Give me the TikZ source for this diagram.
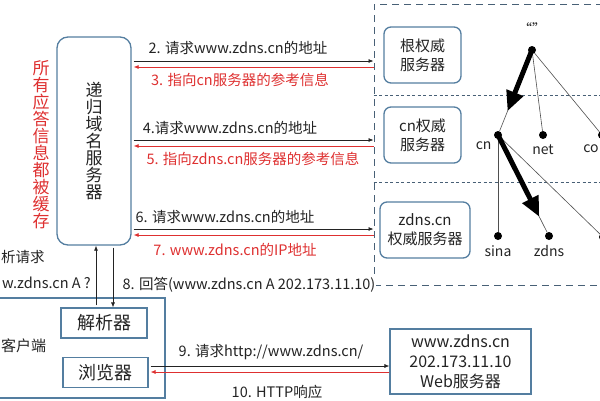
\documentclass[tikz,border=0pt]{standalone}
\usepackage{fontspec}
\setmainfont{Noto Sans CJK SC}
\usetikzlibrary{arrows.meta, calc, positioning}
\definecolor{boxblue}{RGB}{84,126,160}
\definecolor{zonegray}{RGB}{72,96,118}
\definecolor{msgred}{RGB}{222,48,48}
\definecolor{ink}{RGB}{35,35,35}

\tikzset{
  srvbox/.style={draw=boxblue, line width=1.3pt, rounded corners=7pt, align=center, text=ink,
    font=\fontsize{15}{19}\selectfont, minimum width=77pt, minimum height=56pt},
  hostbox/.style={draw=boxblue, line width=1.1pt, align=center, text=ink},
  zonebox/.style={draw=zonegray, line width=1pt, dash pattern=on 7pt off 5pt},
  tierline/.style={draw=zonegray, line width=0.8pt, dash pattern=on 3pt off 2.5pt},
  msg/.style={text=ink, font=\fontsize{14.5}{17}\selectfont, inner sep=1pt},
  note/.style={msg, text=msgred},
  ask/.style={draw=ink, line width=0.7pt, shorten <=2pt, -{Latex[length=5pt,width=4pt]}},
  reply/.style={draw=msgred, line width=0.7pt, shorten >=2pt, -{Latex[length=5pt,width=4pt]}},
  treedot/.style={circle, fill=black, inner sep=0pt, minimum size=8pt},
  branch/.style={draw=ink!80, line width=0.6pt},
  hop/.style={line width=5pt, -{Triangle[length=20pt,width=17pt]}},
  every label/.style={text=ink, font=\fontsize{14}{16}\selectfont}
}

\begin{document}
\begin{tikzpicture}[x=1pt, y=-1pt]
  \useasboundingbox (0,0) rectangle (600,400);
  \clip (0,0) rectangle (600,400);

  % recursive server and the cache remark
  \node[srvbox, minimum width=74pt, minimum height=208pt, rounded corners=11pt,
    font=\fontsize{17}{17}\selectfont] (rec) at (94,141) {递\\归\\域\\名\\服\\务\\器};
  \node[text=msgred, align=center, font=\fontsize{17}{17}\selectfont] (cache) at (41,145)
    {所\\有\\应\\答\\信\\息\\都\\被\\缓\\存};

  % authoritative side, one tier per level
  \node[zonebox, minimum width=250pt, minimum height=281pt] (zone) at (499,144.5) {};
  \draw[tierline] (zone.west |- 0,95) -- (zone.east |- 0,95);
  \draw[tierline] (zone.west |- 0,182) -- (zone.east |- 0,182);
  \node[srvbox] (rootsrv) at (422.5,55) {根权威\\服务器};
  \node[srvbox] (cnsrv) at (422.5,135) {cn权威\\服务器};
  \node[srvbox, minimum width=90pt] (zdnssrv) at (425,230) {zdns.cn\\权威服务器};

  % iterative queries and referrals
  \draw[ask] (rec.east |- 0,61) -- (zone.west |- 0,61);
  \draw[reply] (zone.west |- 0,67) -- (rec.east |- 0,67);
  \draw[ask] (rec.east |- 0,140) -- (zone.west |- 0,140);
  \draw[reply] (zone.west |- 0,146) -- (rec.east |- 0,146);
  \draw[ask] (rec.east |- 0,229) -- (zone.west |- 0,229);
  \draw[reply] (zone.west |- 0,235) -- (rec.east |- 0,235);
  \node[msg] (q2) at (238,48) {2. 请求www.zdns.cn的地址};
  \node[note] (r3) at (240,80) {3. 指向cn服务器的参考信息};
  \node[msg] (q4) at (230,128) {4.请求www.zdns.cn的地址};
  \node[note] (r5) at (253,159) {5. 指向zdns.cn服务器的参考信息};
  \node[msg] (q6) at (225,217) {6. 请求www.zdns.cn的地址};
  \node[note] (r7) at (235,250) {7. www.zdns.cn的IP地址};

  % name tree
  \node[treedot, label={[label distance=8pt]above:“”}] (root) at (532,50) {};
  \node[treedot, label={[label distance=0pt]below left:cn}] (cn) at (498,135) {};
  \node[treedot, label={[label distance=2pt]below:net}] (net) at (543,135) {};
  \node[treedot, label={[label distance=2pt, xshift=-11pt]below:co}] (com) at (602,135) {};
  \node[treedot, label={[label distance=2pt]below:sina}] (sina) at (498,236) {};
  \node[treedot, label={[label distance=2pt]below:zdns}] (zdns) at (549,236) {};
  \node[treedot] (cnmore) at (603,237) {};
  \foreach \kid in {cn, net, com} \draw[branch] (root) -- (\kid);
  \foreach \kid in {sina, zdns, cnmore} \draw[branch] (cn) -- (\kid);
  \draw[hop] (root.center) -- ($(root)!0.72!(cn)$);
  \draw[hop] (cn.center) -- ($(cn)!0.81!(zdns)$);

  \node[msg, fill=white] (ans8) at (249,285) {8. 回答(www.zdns.cn A 202.173.11.10)};

  % client side
  \node[hostbox, minimum width=180pt, minimum height=100pt] (client) at (75,348) {};
  \node[msg, anchor=west, font=\fontsize{15}{18}\selectfont] (clientname) at (0,346) {客户端};
  \node[hostbox, minimum width=86pt, minimum height=30pt, font=\fontsize{18}{20}\selectfont]
    (resolver) at (104,323) {解析器};
  \node[hostbox, minimum width=85pt, minimum height=30pt, font=\fontsize{18}{20}\selectfont]
    (browser) at (105.5,372.5) {浏览器};
  \node[msg, anchor=west] (ask1a) at (0,257) {析请求};
  \node[msg, anchor=west] (ask1b) at (1,283) {w.zdns.cn A ?};
  \draw[ask] (resolver.north -| 96,0) -- (rec.south -| 96,0);
  \draw[ask] (rec.south -| 113,0) -- (resolver.north -| 113,0);

  % web fetch
  \node[hostbox, minimum width=141pt, minimum height=65pt, font=\fontsize{16}{20}\selectfont]
    (web) at (460.5,361.5) {www.zdns.cn\\202.173.11.10\\Web服务器};
  \draw[ask] (browser.east |- 0,366) -- (web.west |- 0,366);
  \draw[reply] (web.west |- 0,372) -- (browser.east |- 0,372);
  \node[msg] (q9) at (271,352) {9. 请求http://www.zdns.cn/};
  \node[msg] (r10) at (277,392) {10. HTTP响应};
\end{tikzpicture}
\end{document}
